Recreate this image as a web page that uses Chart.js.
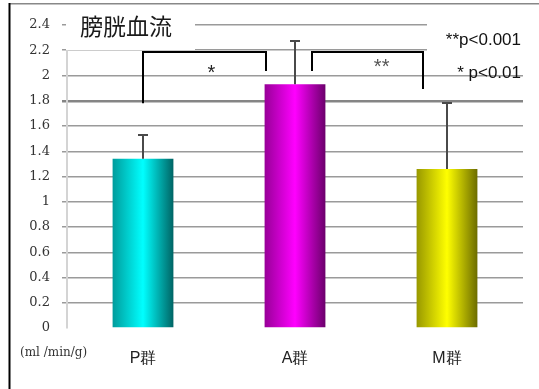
<!DOCTYPE html>
<html>
<head>
<meta charset="utf-8">
<script src="https://cdn.jsdelivr.net/npm/chart.js@4/dist/chart.umd.min.js"></script>
<style>
  html, body { margin: 0; padding: 0; background: #fff; }
  #wrap { width: 539px; height: 389px; position: relative; }
</style>
</head>
<body>
<div id="wrap"><canvas id="c" width="539" height="389"></canvas></div>
<script>
// Bladder blood flow per group (ml/min/g): mean and upper SD
const categories = ['P群', 'A群', 'M群'];
const meanValues = [1.34, 1.93, 1.26];
const sdValues = [0.19, 0.34, 0.52];
const yTickValues = [0, 0.2, 0.4, 0.6, 0.8, 1, 1.2, 1.4, 1.6, 1.8, 2, 2.2, 2.4];
const chartTitle = '膀胱血流';
const unitLabel = '(ml /min/g)';
const sigNotes = ['**p<0.001', '* p<0.01'];

// significance brackets: [left x, right x] in category units, leg bottoms and top in value units
const brackets = [
  { x: [0, 0.81], legs: [1.78, 2.035], top: 2.186, mark: '*', markX: 0.45, markY: 2.06, color: '#222' },
  { x: [1.11, 1.843], legs: [2.035, 1.893], top: 2.186, mark: '**', markX: 1.57, markY: 2.11, color: '#555' }
];

// bar gradients: dark edge -> bright middle -> darker edge
const barShades = [
  ['#009c9c', '#00ffff', '#006464'],
  ['#980098', '#ff00ff', '#6c006c'],
  ['#989800', '#ffff00', '#6c6c00']
];

function barGradient(ctx) {
  const chart = ctx.chart;
  const xs = chart.scales.x;
  const i = ctx.dataIndex;
  const shades = barShades[i % barShades.length];
  if (!xs || !chart.chartArea || i === undefined) return shades[1];
  const cx = xs.getPixelForValue(i);
  const w = (xs.width / categories.length) * 0.4;
  const g = chart.ctx.createLinearGradient(cx - w / 2, 0, cx + w / 2, 0);
  g.addColorStop(0, shades[0]);
  g.addColorStop(0.5, shades[1]);
  g.addColorStop(1, shades[2]);
  return g;
}

// white panels behind the title and significance notes, plus the frame
const backdropPlugin = {
  id: 'backdrop',
  beforeDraw(chart) {
    const c = chart.ctx;
    c.save();
    c.fillStyle = '#fff';
    c.fillRect(0, 0, chart.width, chart.height);
    c.restore();
  },
  beforeDatasetsDraw(chart) {
    const c = chart.ctx;
    c.save();
    c.fillStyle = '#fff';
    c.fillRect(66, 8, 129, 42);
    c.fillRect(427, 8, 112, 50);
    c.fillStyle = '#1a1a1a';
    c.font = '23px "Noto Sans CJK JP"';
    c.textBaseline = 'middle';
    c.textAlign = 'left';
    c.fillText(chartTitle, 80, 26);
    c.restore();
  },
  afterDraw(chart) {
    const c = chart.ctx;
    const xs = chart.scales.x;
    const ys = chart.scales.y;
    c.save();
    // error bars (upper only)
    c.strokeStyle = '#4a4a4a';
    c.lineWidth = 2;
    meanValues.forEach((m, i) => {
      const x = Math.round(xs.getPixelForValue(i));
      const y0 = ys.getPixelForValue(m);
      const y1 = Math.round(ys.getPixelForValue(m + sdValues[i]));
      c.beginPath();
      c.moveTo(x, y0);
      c.lineTo(x, y1);
      c.moveTo(x - 5, y1);
      c.lineTo(x + 5, y1);
      c.stroke();
    });
    // significance brackets
    c.strokeStyle = '#000';
    c.lineWidth = 2;
    const markSize = 20;
    c.font = markSize + 'px "Liberation Sans"';
    c.textAlign = 'center';
    c.textBaseline = 'alphabetic';
    brackets.forEach(b => {
      const xl = Math.round(xs.getPixelForValue(b.x[0]));
      const xr = Math.round(xs.getPixelForValue(b.x[1]));
      const yt = Math.round(ys.getPixelForValue(b.top));
      c.beginPath();
      c.moveTo(xl, ys.getPixelForValue(b.legs[0]));
      c.lineTo(xl, yt);
      c.lineTo(xr, yt);
      c.lineTo(xr, ys.getPixelForValue(b.legs[1]));
      c.stroke();
      c.fillStyle = b.color;
      c.fillText(b.mark, xs.getPixelForValue(b.markX), ys.getPixelForValue(b.markY) + markSize * 0.57);
    });
    // significance notes
    c.fillStyle = '#111';
    c.font = '17px "Liberation Sans"';
    c.textAlign = 'right';
    c.textBaseline = 'middle';
    c.fillText(sigNotes[0], 521, 40);
    c.fillText(sigNotes[1], 521, 73);
    // unit label
    c.fillStyle = '#333';
    c.font = '12px "DejaVu Serif"';
    c.textAlign = 'left';
    c.fillText(unitLabel, 20, 353);
    // frame
    c.fillStyle = '#888';
    c.fillRect(9, 3, chart.width - 9, 1.5);
    c.fillStyle = '#000';
    c.fillRect(8.5, 3, 2, chart.height - 3);
    c.restore();
  }
};

new Chart(document.getElementById('c'), {
  type: 'bar',
  data: {
    labels: categories,
    datasets: [{
      data: meanValues,
      backgroundColor: barGradient,
      borderWidth: 0,
      categoryPercentage: 0.8,
      barPercentage: 0.5
    }]
  },
  options: {
    responsive: false,
    animation: false,
    devicePixelRatio: 1,
    layout: { padding: { left: 10, right: 16, top: 25, bottom: 0 } },
    plugins: { legend: { display: false }, tooltip: { enabled: false }, title: { display: false } },
    scales: {
      x: {
        grid: { display: false, drawTicks: false },
        border: { display: false },
        ticks: { color: '#222', font: { family: 'Liberation Sans', size: 16 }, padding: 21 },
        afterFit(s) { s.height = 61; }
      },
      y: {
        min: 0,
        max: 2.4,
        afterBuildTicks(s) { s.ticks = yTickValues.map(v => ({ value: v })); },
        ticks: {
          color: '#333',
          font: { family: 'DejaVu Serif', size: 13 },
          padding: 12,
          callback: v => String(Math.round(v * 10) / 10)
        },
        grid: {
          tickLength: 5,
          color: ctx => {
            const v = ctx.tick ? ctx.tick.value : null;
            if (v === 0) return 'rgba(0,0,0,0)';
            if (v !== null && Math.abs(v - 1.8) < 1e-6) return '#858585';
            return '#9a9a9a';
          },
          lineWidth: ctx => {
            const v = ctx.tick ? ctx.tick.value : null;
            if (v !== null && Math.abs(v - 1.8) < 1e-6) return 2.5;
            return 1.5;
          }
        },
        border: { display: true, color: '#d4d4d4', width: 2 },
        afterFit(s) { s.width = 57; }
      }
    }
  },
  plugins: [backdropPlugin]
});
</script>
</body>
</html>
